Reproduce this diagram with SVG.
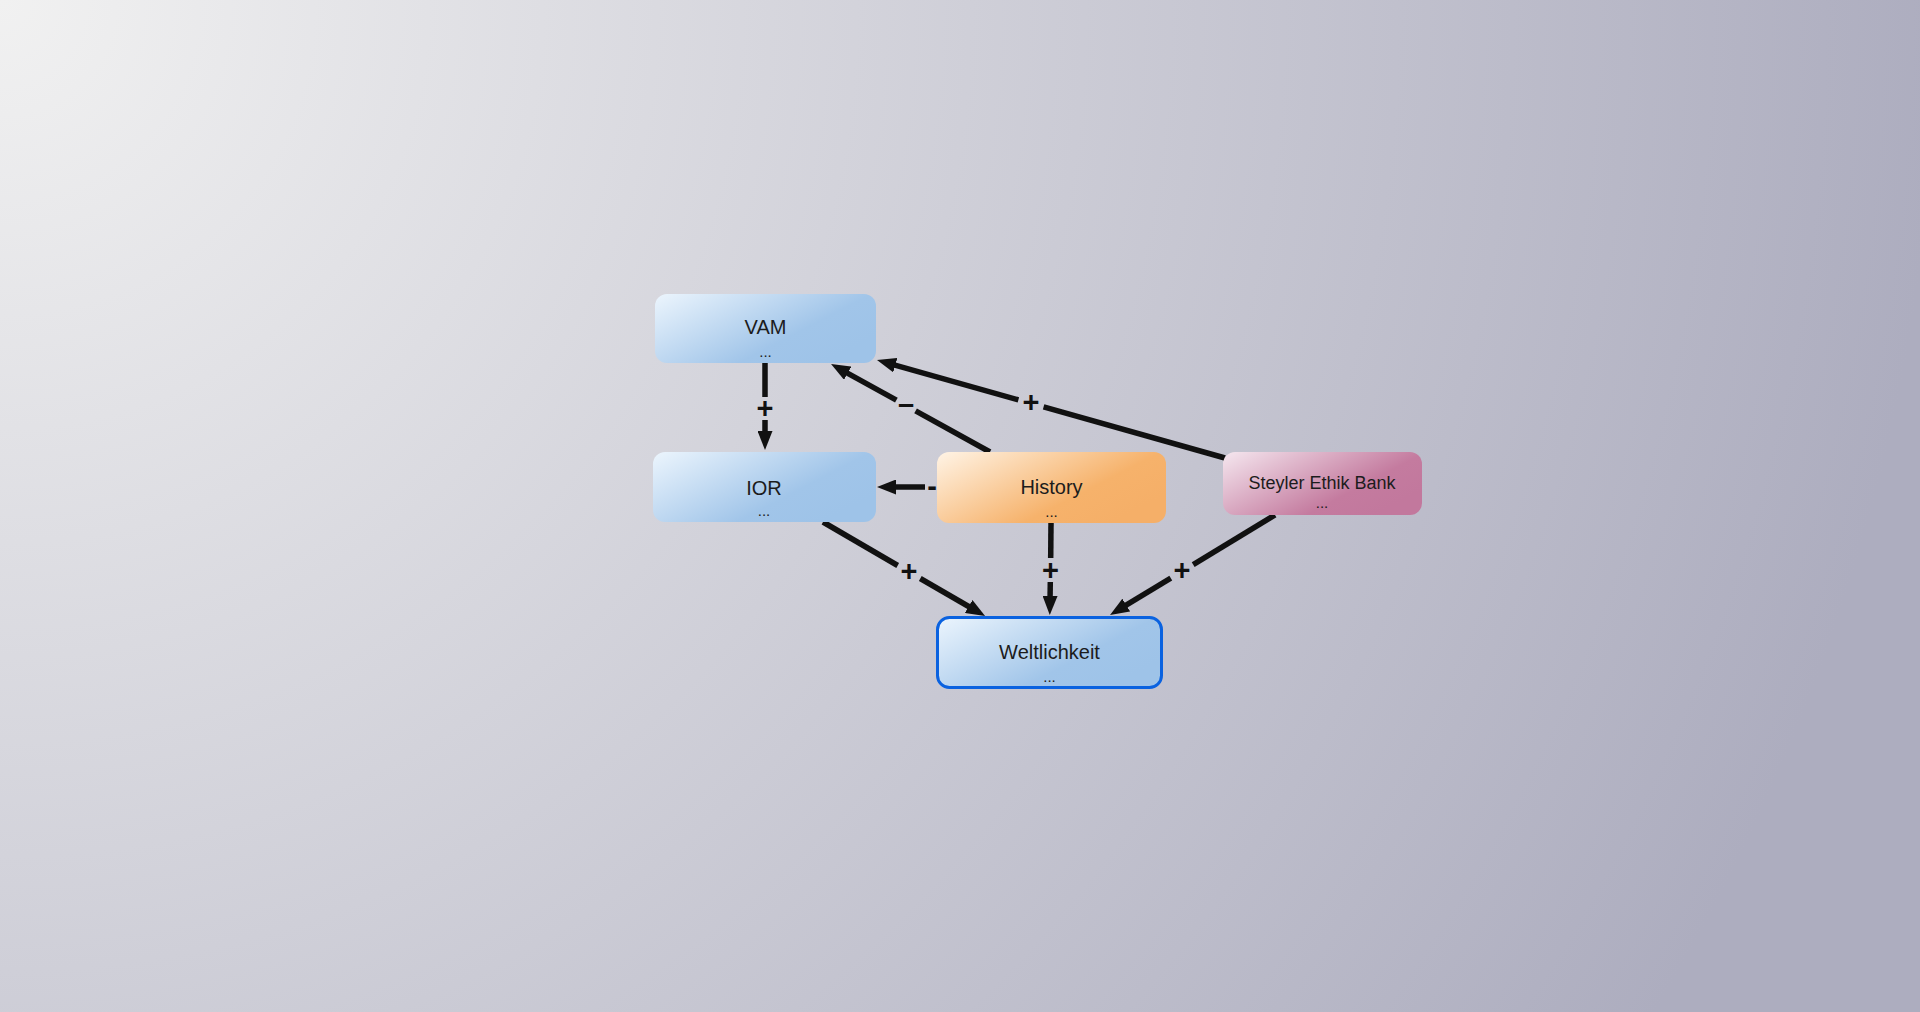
<svg xmlns="http://www.w3.org/2000/svg" width="1920" height="1012" viewBox="0 0 1920 1012">
  <defs>
    <radialGradient id="bg" gradientUnits="userSpaceOnUse" cx="0" cy="0" r="1940">
      <stop offset="0" stop-color="#f1f1f1"/>
      <stop offset="1" stop-color="#adadbf"/>
    </radialGradient>
    <linearGradient id="gBlue" x1="0" y1="0" x2="1" y2="0.6">
      <stop offset="0" stop-color="#ecf5fd"/>
      <stop offset="0.72" stop-color="#a1c5e9"/>
      <stop offset="1" stop-color="#9ec3e8"/>
    </linearGradient>
    <linearGradient id="gOrange" x1="0" y1="0" x2="1" y2="0.6">
      <stop offset="0" stop-color="#fff4e6"/>
      <stop offset="0.72" stop-color="#f6b26b"/>
      <stop offset="1" stop-color="#f5af68"/>
    </linearGradient>
    <linearGradient id="gPink" x1="0" y1="0" x2="1" y2="0.6">
      <stop offset="0" stop-color="#f5e7ef"/>
      <stop offset="0.75" stop-color="#c47b9f"/>
      <stop offset="1" stop-color="#c2789d"/>
    </linearGradient>
    <marker id="arr" viewBox="0 0 19 15" refX="5" refY="7.5" markerWidth="19" markerHeight="15" markerUnits="userSpaceOnUse" orient="auto">
      <path d="M0,0 L19,7.5 L0,15 z" fill="#111"/>
    </marker>
    <style>
      .node text { font-family: "Liberation Sans", Arial, sans-serif; fill: #1c1c1c; text-anchor: middle; }
      .lbl { font-size: 20px; }
      .dots { font-size: 15px; }
      .edge { stroke: #111; stroke-width: 5.5; fill: none; stroke-linecap: butt; }
      .elbl { font-family: "Liberation Sans", Arial, sans-serif; font-weight: bold; font-size: 29px; fill: #111; text-anchor: middle; dominant-baseline: central; }
    </style>
  </defs>

  <rect x="0" y="0" width="1920" height="1012" fill="url(#bg)"/>

  <g id="connectors">
    <!-- VAM -> IOR -->
    <line class="edge" x1="765" y1="363" x2="765" y2="397"/>
    <line class="edge" x1="765" y1="420" x2="765" y2="436" marker-end="url(#arr)"/>
    <text class="elbl" x="765" y="408">+</text>
    <!-- History -> VAM -->
    <line class="edge" x1="990" y1="452" x2="915.6" y2="410.8"/>
    <line class="edge" x1="896.4" y1="400.2" x2="843.3" y2="370.8" marker-end="url(#arr)"/>
    <text class="elbl" x="906" y="404">–</text>
    <!-- Steyler -> VAM -->
    <line class="edge" x1="1225" y1="458" x2="1043.6" y2="406.9"/>
    <line class="edge" x1="1018.4" y1="399.9" x2="890.5" y2="363.8" marker-end="url(#arr)"/>
    <text class="elbl" x="1031" y="402">+</text>
    <!-- History -> IOR -->
    <line class="edge" x1="925" y1="487" x2="891" y2="487" marker-end="url(#arr)"/>
    <text class="elbl" x="932" y="486">-</text>
    <!-- IOR -> Weltlichkeit -->
    <line class="edge" x1="823" y1="522" x2="897.7" y2="565.5"/>
    <line class="edge" x1="920.3" y1="578.5" x2="973" y2="609" marker-end="url(#arr)"/>
    <text class="elbl" x="909" y="571">+</text>
    <!-- History -> Weltlichkeit -->
    <line class="edge" x1="1051" y1="523" x2="1050.7" y2="558"/>
    <line class="edge" x1="1050.3" y1="582" x2="1050" y2="601" marker-end="url(#arr)"/>
    <text class="elbl" x="1050.5" y="570">+</text>
    <!-- Steyler -> Weltlichkeit -->
    <line class="edge" x1="1275" y1="515" x2="1193.2" y2="564.7"/>
    <line class="edge" x1="1170.8" y1="578.1" x2="1122" y2="607.7" marker-end="url(#arr)"/>
    <text class="elbl" x="1182" y="570">+</text>
  </g>

  <g id="node-vam" class="node">
    <rect x="655" y="294" width="221" height="69" rx="12" fill="url(#gBlue)"/>
    <text class="lbl" x="765.5" y="334">VAM</text>
    <text class="dots" x="765.5" y="357">...</text>
  </g>
  <g id="node-ior" class="node">
    <rect x="653" y="452" width="223" height="70" rx="12" fill="url(#gBlue)"/>
    <text class="lbl" x="764" y="495">IOR</text>
    <text class="dots" x="764" y="516">...</text>
  </g>
  <g id="node-history" class="node">
    <rect x="937" y="452" width="229" height="71" rx="12" fill="url(#gOrange)"/>
    <text class="lbl" x="1051.5" y="494">History</text>
    <text class="dots" x="1051.5" y="517">...</text>
  </g>
  <g id="node-steyler" class="node">
    <rect x="1223" y="452" width="199" height="63" rx="12" fill="url(#gPink)"/>
    <text x="1322" y="489" style="font-size:18px">Steyler Ethik Bank</text>
    <text class="dots" x="1322" y="508">...</text>
  </g>
  <g id="node-weltlichkeit" class="node">
    <rect x="937.5" y="617.5" width="224" height="70" rx="12" fill="url(#gBlue)" stroke="#0a62e0" stroke-width="3"/>
    <text class="lbl" x="1049.5" y="659">Weltlichkeit</text>
    <text class="dots" x="1049.5" y="682">...</text>
  </g>
</svg>
